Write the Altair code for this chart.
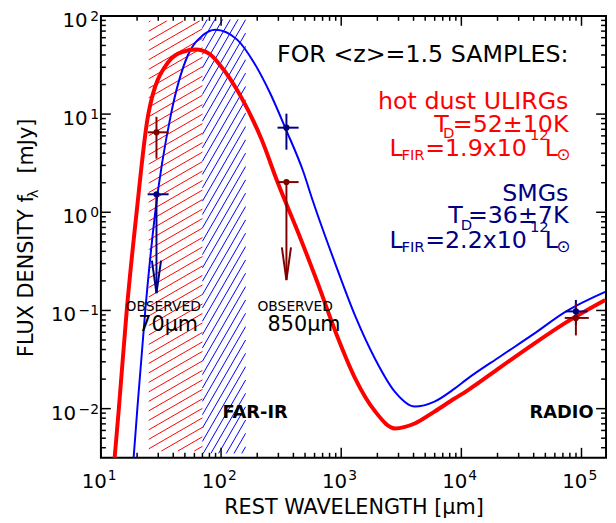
import math
import numpy as np
import pandas as pd
import altair as alt

# ---------------- values ----------------
# SED of the hot-dust ULIRGs (red) and SMGs (blue): rest wavelength [um], flux density [mJy]
RED_WAVE = [12.6, 13.0, 14.1, 16.4, 19.8, 24.8, 36.2, 48.0, 61.4, 80.0, 98.6, 144, 218, 295,
            448, 638, 901, 1315, 1920, 2803, 4093, 5973, 8717, 11140, 21210, 39540, 73900, 157400]
RED_FLUX = [0.00197, 0.00313, 0.0100, 0.100, 0.99, 10.0, 33.6, 43.0, 45.4, 41.0, 31.3, 15.6, 5.47, 2.03,
            0.58, 0.189, 0.0597, 0.0200, 0.00933, 0.00629, 0.00706, 0.00933, 0.0126, 0.0152, 0.0265,
            0.0452, 0.0752, 0.128]
BLUE_WAVE = [18.1, 18.7, 20.1, 23.4, 28.3, 38.3, 52.8, 70.0, 89.7, 136, 187.5, 254, 350, 483, 580,
             901, 1315, 1920, 2803, 4093, 5973, 8717, 11140, 21210, 39540, 73900, 157400]
BLUE_FLUX = [0.00197, 0.00313, 0.0100, 0.100, 0.99, 10.0, 39.5, 63.0, 72.2, 57.3, 33.6, 16.7, 6.8, 2.6,
             1.31, 0.29, 0.0865, 0.0319, 0.0148, 0.0105, 0.0118, 0.0159, 0.0200, 0.0342, 0.0570,
             0.0972, 0.1546]

# photometric points (70um, 850um, 1.4GHz observed -> rest frame)
PT_SAMPLE = ["SMG", "ULIRG", "SMG", "ULIRG", "SMG", "ULIRG"]
PT_WAVE = [29.0, 29.0, 350, 350, 89800, 89800]
PT_FLUX = [1.525, 6.52, 7.27, 2.03, 0.0978, 0.0839]
PT_WAVE_LO = [24.5, 24.5, 295, 295, 74300, 72500]
PT_WAVE_HI = [36.6, 36.6, 442, 442, 112000, 115000]
PT_FLUX_LO = [None, 3.52, 4.34, None, 0.0718, 0.0557]
PT_FLUX_HI = [None, 9.38, 10.1, None, 0.128, 0.119]
PT_LIMIT_TIP = [0.150, None, None, 0.204, None, None]   # upper-limit arrows

# shaded wavelength bands (observed 70um and far-IR)
BAND_NAME = ["red", "blue"]
BAND_WAVE_LO = [25, 70]
BAND_WAVE_HI = [70, 160]
BAND_FLUX_LO = [0.0037, 0.0035]
BAND_FLUX_HI = [89, 92]

# axis tick labels
X_MAJOR = [10, 100, 1000, 10000, 100000]
X_EXP = ["1", "2", "3", "4", "5"]
Y_MAJOR = [0.01, 0.1, 1, 10, 100]
Y_EXP = ["\u22122", "\u22121", "0", "1", "2"]

# ---------------- styling / layout ----------------
RED = "#FF0000"
BLUE = "#0000FF"
DKRED = "#800000"
NAVY = "#000080"
SAMPLE_COLOR = {"SMG": NAVY, "ULIRG": DKRED}
FONT = "DejaVu Sans"

XMIN, XMAX = 10, 1.6e5
YMIN, YMAX = 10 ** -2.5, 100
W, H = 511, 447
AX = W / math.log10(XMAX / XMIN)
AY = H / math.log10(YMAX / YMIN)

xs = alt.Scale(type="log", domain=[XMIN, XMAX], nice=False)
ys = alt.Scale(type="log", domain=[YMIN, YMAX], nice=False)


def X(f):
    return alt.X(f, type="quantitative", scale=xs, axis=None)


def Y(f):
    return alt.Y(f, type="quantitative", scale=ys, axis=None)


PX = alt.X("px:Q", scale=None, axis=None)
PY = alt.Y("py:Q", scale=None, axis=None)

# ---------------- hatching ----------------
HATCH_STYLE = {"red": (RED, 30.0, 9.6), "blue": (BLUE, 60.0, 13.5)}


def hatch_rows(color, x0, x1, y0, y1, ang, step):
    U0, U1 = math.log10(x0) * AX, math.log10(x1) * AX
    V0, V1 = math.log10(y0) * AY, math.log10(y1) * AY
    t = math.tan(math.radians(ang))
    rows = []
    c = V0 - t * U1 + step * 0.5
    while c < V1 - t * U0:
        ua = max(U0, (V0 - c) / t)
        ub = min(U1, (V1 - c) / t)
        if ub - ua > 0.3:
            rows.append({"x": 10 ** (ua / AX), "y": 10 ** ((t * ua + c) / AY),
                         "x2": 10 ** (ub / AX), "y2": 10 ** ((t * ub + c) / AY), "color": color})
        c += step
    return rows


hrows = []
for name, xa, xb, ya, yb in zip(BAND_NAME, BAND_WAVE_LO, BAND_WAVE_HI, BAND_FLUX_LO, BAND_FLUX_HI):
    col, ang, step = HATCH_STYLE[name]
    hrows += hatch_rows(col, xa, xb, ya, yb, ang, step)
hatch_df = pd.DataFrame(hrows)

hatch = alt.Chart(hatch_df).mark_rule(strokeWidth=1).encode(
    x=X("x"), y=Y("y"), x2="x2", y2="y2", color=alt.Color("color:N", scale=None))

# ---------------- SED curves ----------------
blue_df = pd.DataFrame({"wave": BLUE_WAVE, "flux": BLUE_FLUX})
red_df = pd.DataFrame({"wave": RED_WAVE, "flux": RED_FLUX})
blue_line = alt.Chart(blue_df).mark_line(color=BLUE, strokeWidth=2, interpolate="monotone", clip=True).encode(
    x=X("wave"), y=Y("flux"))
red_line = alt.Chart(red_df).mark_line(color=RED, strokeWidth=4, interpolate="monotone", clip=True).encode(
    x=X("wave"), y=Y("flux"))

# ---------------- points ----------------
pts = pd.DataFrame({"sample": PT_SAMPLE, "wave": PT_WAVE, "flux": PT_FLUX, "wlo": PT_WAVE_LO,
                    "whi": PT_WAVE_HI, "flo": PT_FLUX_LO, "fhi": PT_FLUX_HI, "tip": PT_LIMIT_TIP})
pts["color"] = pts["sample"].map(SAMPLE_COLOR)
pcolor = alt.Color("color:N", scale=None)

xerr = alt.Chart(pts).mark_rule(strokeWidth=2).encode(x=X("wlo"), x2="whi", y=Y("flux"), color=pcolor)
yerr = alt.Chart(pts.dropna(subset=["flo"])).mark_rule(strokeWidth=2).encode(
    x=X("wave"), y=Y("flo"), y2="fhi", color=pcolor)
lim = pts.dropna(subset=["tip"])
shaft = alt.Chart(lim).mark_rule(strokeWidth=2).encode(x=X("wave"), y=Y("flux"), y2="tip", color=pcolor)
head = alt.Chart(lim).mark_point(shape="M-0.28,-2L0,0L0.28,-2", size=1089, filled=False,
                                 strokeWidth=2, opacity=1).encode(x=X("wave"), y=Y("tip"), color=pcolor)
dots = alt.Chart(pts).mark_circle(size=40, opacity=1).encode(x=X("wave"), y=Y("flux"), color=pcolor)

# ---------------- ticks (inward, on all four sides) ----------------
x_minor = [k * 10 ** n for n in range(1, 6) for k in range(2, 10) if XMIN < k * 10 ** n < XMAX]
y_minor = [k * 10 ** n for n in range(-3, 2) for k in range(2, 10) if YMIN < k * 10 ** n < YMAX]
xmaj_df = pd.DataFrame({"v": X_MAJOR, "e": X_EXP})
xmin_df = pd.DataFrame({"v": x_minor})
ymaj_df = pd.DataFrame({"v": Y_MAJOR, "e": Y_EXP})
ymin_df = pd.DataFrame({"v": y_minor})

tick_layers = []
for df, ln in ((xmaj_df, 10), (xmin_df, 5)):
    base = alt.Chart(df).mark_rule(color="black", strokeWidth=1.5)
    tick_layers.append(base.encode(x=X("v"), y=alt.value(H), y2=alt.value(H - ln)))
    tick_layers.append(base.encode(x=X("v"), y=alt.value(0), y2=alt.value(ln)))
for df, ln in ((ymaj_df, 10), (ymin_df, 5)):
    base = alt.Chart(df).mark_rule(color="black", strokeWidth=1.5)
    tick_layers.append(base.encode(y=Y("v"), x=alt.value(0), x2=alt.value(ln)))
    tick_layers.append(base.encode(y=Y("v"), x=alt.value(W), x2=alt.value(W - ln)))

# tick labels: "10" + superscript exponent
xl_ten = alt.Chart(xmaj_df).mark_text(align="right", baseline="alphabetic", dx=6, fontSize=20,
                                      font=FONT, color="black").encode(
    x=X("v"), y=alt.value(H + 31), text=alt.value("10"))
xl_exp = alt.Chart(xmaj_df).mark_text(align="left", baseline="alphabetic", dx=7, fontSize=14,
                                      font=FONT, color="black").encode(
    x=X("v"), y=alt.value(H + 23), text="e:N")


def exp_width(s):
    return sum(0.838 if ch == "\u2212" else 0.636 for ch in s) * 14


ymaj_df["px"] = [-2 - exp_width(e) - 2.5 for e in Y_EXP]
yl_exp = alt.Chart(ymaj_df).mark_text(align="right", baseline="alphabetic", dy=5, fontSize=14,
                                      font=FONT, color="black").encode(
    y=Y("v"), x=alt.value(-2), text="e:N")
yl_ten = alt.Chart(ymaj_df).mark_text(align="right", baseline="alphabetic", dy=11, fontSize=20,
                                      font=FONT, color="black").encode(
    y=Y("v"), x=PX, text=alt.value("10"))

# ---------------- annotations ----------------
RIGHT_TEXT = [
    ("FOR <z>=1.5 SAMPLES:", 473, 47, 24, "black"),
    ("hot dust ULIRGs", 473, 94, 24, RED),
    ("=52\u00b110K", 473, 117, 24, RED),
    ("T", 352, 117, 24, RED),
    ("SMGs", 473, 187, 24, NAVY),
    ("=36\u00b17K", 473, 210, 24, NAVY),
    ("T", 366, 210, 24, NAVY),
]
LEFT_TEXT = [
    ("D", 346, 124, 15, RED),
    ("D", 364, 217, 15, NAVY),
    ("L", 292, 142, 24, RED), ("FIR", 304, 146, 15, RED), ("=1.9x10", 328, 142, 24, RED),
    ("12", 434, 126, 15, RED), ("L", 449, 142, 24, RED), ("\u2299", 461, 146, 17, RED),
    ("L", 292, 235, 24, NAVY), ("FIR", 304, 239, 15, NAVY), ("=2.2x10", 328, 235, 24, NAVY),
    ("12", 434, 219, 15, NAVY), ("L", 449, 235, 24, NAVY), ("\u2299", 461, 239, 17, NAVY),
]
CENTER_TEXT = [
    ("OBSERVED", 63, 299, 14, "black"), ("70\u03bcm", 68, 319, 21, "black"),
    ("OBSERVED", 196.5, 299, 14, "black"), ("850\u03bcm", 205.5, 319, 21, "black"),
    ("REST WAVELENGTH [\u03bcm]", 256, 504, 21, "black"),
]
BOLD_TEXT = [("FAR-IR", 156, 407, 18, "black"), ("RADIO", 466, 407, 18, "black")]
YTITLE_LEFT = [("FLUX DENSITY f", -69, 345, 21, "black")]
YTITLE_CENTER = [("\u03bb", -64, 180, 15, "black")]
YTITLE_RIGHT = [("[mJy]", -69, 104, 21, "black")]


def text_layer(rows, align, weight="normal", angle=0):
    df = pd.DataFrame(rows, columns=["t", "px", "py", "s", "c"])
    return alt.Chart(df).mark_text(align=align, baseline="alphabetic", font=FONT, fontWeight=weight,
                                   angle=angle).encode(
        x=PX, y=PY, text="t:N", size=alt.Size("s:Q", scale=None, legend=None),
        color=alt.Color("c:N", scale=None))


texts = [
    text_layer(RIGHT_TEXT, "right"),
    text_layer(LEFT_TEXT, "left"),
    text_layer(CENTER_TEXT, "center"),
    text_layer(BOLD_TEXT, "center", weight="bold"),
    text_layer(YTITLE_LEFT, "left", angle=270),
    text_layer(YTITLE_CENTER, "center", angle=270),
    text_layer(YTITLE_RIGHT, "right", angle=270),
]

chart = alt.layer(
    hatch, blue_line, red_line, xerr, yerr, shaft, head, dots,
    *tick_layers, xl_ten, xl_exp, yl_exp, yl_ten, *texts
).properties(
    width=W, height=H,
    autosize=alt.AutoSizeParams(type="none"),
    padding={"left": 94, "top": 5, "right": 2, "bottom": 60},
    background="white",
).configure_view(stroke="black", strokeWidth=2)

chart.save("out.html", embed_options={"renderer": "svg", "actions": False})
